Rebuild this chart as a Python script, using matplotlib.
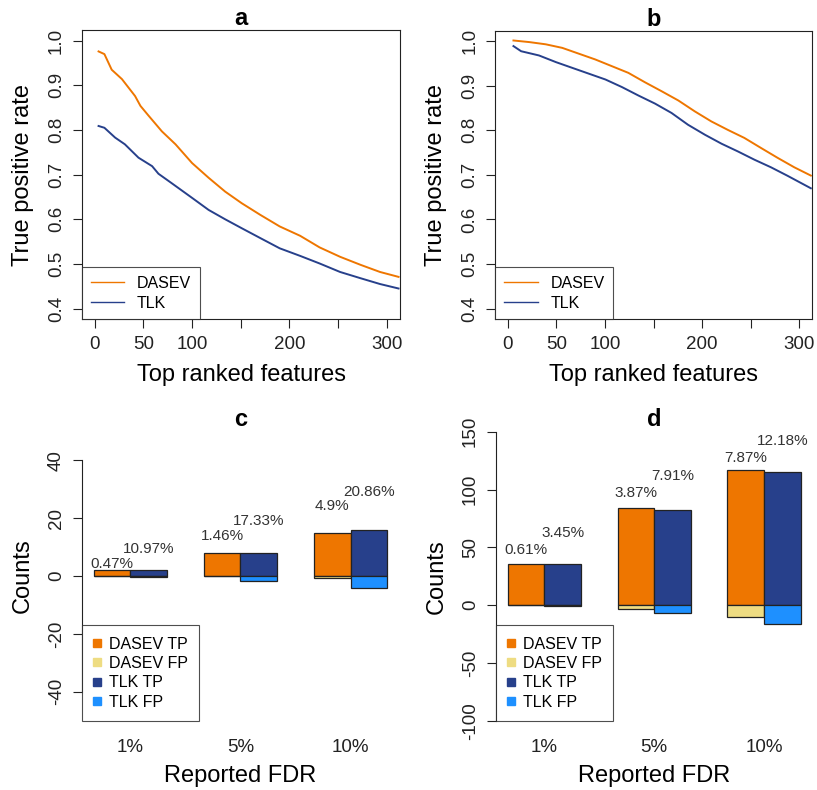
import matplotlib
matplotlib.use("Agg")
import matplotlib.pyplot as plt
from matplotlib.lines import Line2D

plt.rcParams['font.family'] = ['Liberation Sans', 'DejaVu Sans']

# ---- data -------------------------------------------------------------
# panel a: true positive rate among top ranked features
a_dasev_x = [4, 10, 17.5, 28, 41.5, 47, 55, 69, 83, 100, 117, 134, 151, 170, 190,
             211, 231, 252, 273, 293, 312]
a_dasev_y = [0.976, 0.970, 0.935, 0.914, 0.876, 0.854, 0.833, 0.797, 0.768, 0.726,
             0.693, 0.662, 0.636, 0.610, 0.584, 0.563, 0.537, 0.516, 0.498, 0.482, 0.471]
a_tlk_x = [4, 10, 21, 31, 45, 59, 65.5, 79, 100, 117, 134, 151, 170, 190, 211, 231,
           252, 273, 293, 312]
a_tlk_y = [0.809, 0.805, 0.783, 0.768, 0.738, 0.719, 0.702, 0.681, 0.648, 0.621,
           0.600, 0.580, 0.558, 0.535, 0.518, 0.501, 0.482, 0.468, 0.455, 0.445]

# panel b
b_dasev_x = [5.7, 22, 39, 56, 73, 90, 107, 124, 141, 158.5, 175.5, 192.5, 209.5,
             226.5, 243.5, 261, 278, 295, 312]
b_dasev_y = [1.0016, 0.998, 0.993, 0.985, 0.972, 0.959, 0.944, 0.929, 0.908, 0.8875,
             0.867, 0.8425, 0.820, 0.801, 0.783, 0.760, 0.738, 0.717, 0.6985]
b_tlk_x = [5.7, 13.6, 32, 49.5, 66.5, 83.5, 100.5, 117.5, 134.5, 151.5, 168.5, 185.5,
           203, 220, 237, 254, 271, 288, 312]
b_tlk_y = [0.989, 0.9775, 0.968, 0.953, 0.940, 0.927, 0.914, 0.897, 0.878, 0.860,
           0.839, 0.8125, 0.790, 0.770, 0.7525, 0.734, 0.717, 0.698, 0.670]

# panels c, d: counts of true / false positives at each reported FDR
fdr_levels = ['1%', '5%', '10%']
c_dasev_tp = [2.0, 7.9, 14.9]
c_dasev_fp = [0.05, 0.1, 0.8]
c_tlk_tp = [2.0, 7.9, 15.9]
c_tlk_fp = [0.2, 1.8, 4.0]
c_dasev_fdr = ['0.47%', '1.46%', '4.9%']
c_tlk_fdr = ['10.97%', '17.33%', '20.86%']

d_dasev_tp = [35.8, 83.6, 116.8]
d_dasev_fp = [0.2, 3.4, 10.5]
d_tlk_tp = [35.2, 82.3, 115.3]
d_tlk_fp = [1.0, 7.0, 16.3]
d_dasev_fdr = ['0.61%', '3.87%', '7.87%']
d_tlk_fdr = ['3.45%', '7.91%', '12.18%']

# ---- style ------------------------------------------------------------
ORANGE = '#EE7600'
NAVY = '#27408B'
GOLD = '#EEDC82'
BLUE = '#1E90FF'

W, H = 817, 790
fig = plt.figure(figsize=(W / 100, H / 100), dpi=100)


def axes_px(left, top, right, bottom):
    return fig.add_axes([left / W, 1 - bottom / H, (right - left) / W, (bottom - top) / H])


def style_axis(ax):
    ax.tick_params(axis='both', labelsize=13.5, length=6.5, width=0.8, pad=5.8,
                   direction='out', colors='#222222')
    for lab in ax.get_yticklabels():
        lab.set_rotation(90)
        lab.set_va('center')


def frame_legend(leg):
    leg.get_frame().set_edgecolor('#222222')
    leg.get_frame().set_linewidth(0.8)


def curve_panel(ax, title, xd, yd, xt, yt):
    ax.plot(xd, yd, color=ORANGE, lw=1.4)
    ax.plot(xt, yt, color=NAVY, lw=1.4)
    ax.set_xlim(-13, 313.5)
    ax.set_ylim(0.376, 1.024)
    ax.set_xticks([0, 50, 100, 150, 200, 250, 300])
    ax.set_xticklabels(['0', '50', '100', '', '200', '', '300'])
    ax.set_yticks([0.4, 0.5, 0.6, 0.7, 0.8, 0.9, 1.0])
    ax.set_yticklabels(['0.4', '0.5', '0.6', '0.7', '0.8', '0.9', '1.0'])
    style_axis(ax)
    for s in ax.spines.values():
        s.set_linewidth(0.8)
        s.set_color('#222222')
    ax.set_xlabel('Top ranked features', fontsize=17, labelpad=8)
    ax.set_ylabel('True positive rate', fontsize=17, labelpad=10)
    ax.set_title(title, fontsize=17, fontweight='bold', pad=3.5)
    handles = [Line2D([], [], color=ORANGE, lw=1.0), Line2D([], [], color=NAVY, lw=1.0)]
    leg = ax.legend(handles, ['DASEV', 'TLK'], loc='lower left', fontsize=11.5,
                    frameon=True, fancybox=False, borderaxespad=0, borderpad=0.55,
                    handlelength=2.1, handletextpad=0.8, labelspacing=0.3)
    frame_legend(leg)


def bar_panel(ax, title, dtp, dfp, ttp, tfp, dlab, tlab, ylim, yticks, dlab_y, tlab_y):
    groups = [2, 5, 8]
    dx = [g - 0.5 for g in groups]
    tx = [g + 0.5 for g in groups]
    kw = dict(width=1.0, edgecolor='#222222', linewidth=0.9)
    ax.bar(dx, dtp, color=ORANGE, **kw)
    ax.bar(dx, [-v for v in dfp], color=GOLD, **kw)
    ax.bar(tx, ttp, color=NAVY, **kw)
    ax.bar(tx, [-v for v in tfp], color=BLUE, **kw)
    for x, s, y in zip(dx, dlab, dlab_y):
        ax.text(x, y, s, ha='center', va='baseline', fontsize=11, color='#333333')
    for x, s, y in zip(tx, tlab, tlab_y):
        ax.text(x, y, s, ha='center', va='baseline', fontsize=11, color='#333333')
    ax.set_xlim(0.68, 9.32)
    ax.set_ylim(*ylim)
    ax.set_xticks(groups)
    ax.set_xticklabels(fdr_levels)
    ax.set_yticks(yticks)
    ax.set_yticklabels([str(v) for v in yticks])
    style_axis(ax)
    ax.tick_params(axis='x', length=0, pad=13)
    for k in ('top', 'right', 'bottom'):
        ax.spines[k].set_visible(False)
    ax.spines['left'].set_bounds(yticks[0], yticks[-1])
    ax.spines['left'].set_linewidth(0.8)
    ax.spines['left'].set_color('#222222')
    ax.set_xlabel('Reported FDR', fontsize=17, labelpad=7)
    ax.set_ylabel('Counts', fontsize=17, labelpad=10)
    ax.set_title(title, fontsize=17, fontweight='bold', pad=4)
    handles = [Line2D([], [], ls='none', marker='s', markersize=5.2, color=c)
               for c in (ORANGE, GOLD, NAVY, BLUE)]
    leg = ax.legend(handles, ['DASEV TP', 'DASEV FP', 'TLK TP', 'TLK FP'],
                    loc='lower left', fontsize=11.5, frameon=True, fancybox=False,
                    borderaxespad=0, borderpad=0.7, handlelength=0.5,
                    handletextpad=0.5, labelspacing=0.27)
    frame_legend(leg)


ax_a = axes_px(82, 30, 400, 319.3)
curve_panel(ax_a, 'a', a_dasev_x, a_dasev_y, a_tlk_x, a_tlk_y)

ax_b = axes_px(495.3, 30.5, 812.3, 319.3)
curve_panel(ax_b, 'b', b_dasev_x, b_dasev_y, b_tlk_x, b_tlk_y)

ax_c = axes_px(82, 431.5, 399, 720.7)
bar_panel(ax_c, 'c', c_dasev_tp, c_dasev_fp, c_tlk_tp, c_tlk_fp, c_dasev_fdr, c_tlk_fdr,
          (-50, 50), [-40, -20, 0, 20, 40], [2.8, 12.6, 22.8], [8.0, 17.6, 27.6])

ax_d = axes_px(496, 431.7, 812.4, 720.7)
bar_panel(ax_d, 'd', d_dasev_tp, d_dasev_fp, d_tlk_tp, d_tlk_fp, d_dasev_fdr, d_tlk_fdr,
          (-100, 150), [-100, -50, 0, 50, 100, 150], [44.1, 93.7, 123.7],
          [58.5, 108.1, 138.4])

fig.savefig('out.png', dpi=100, facecolor='white')
